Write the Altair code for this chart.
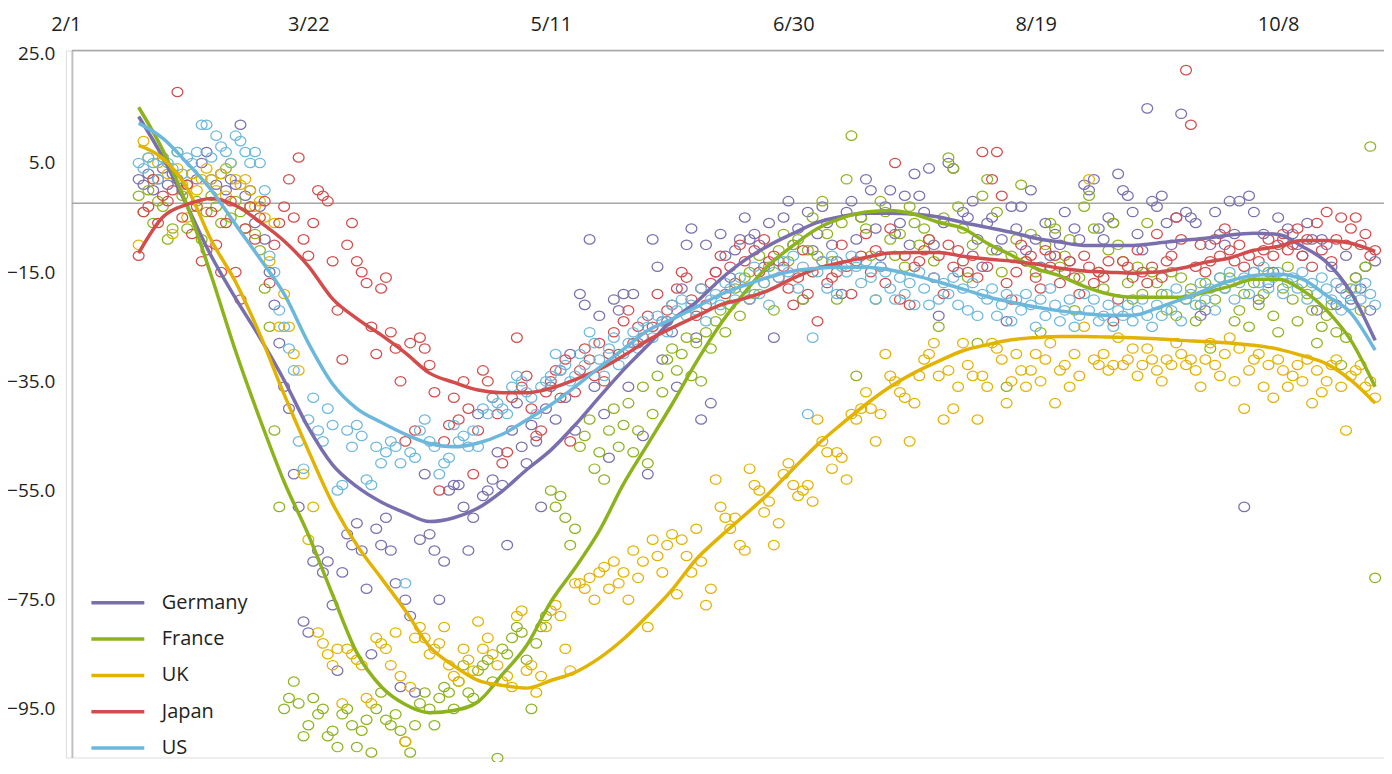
import json
import altair as alt
import pandas as pd

countries = ["Germany", "France", "UK", "Japan", "US"]
colors = ["#7a6fae", "#8db31c", "#e2b300", "#d24c4c", "#6cb8dc"]

tick_days = [0, 50, 100, 150, 200, 250]
tick_labels = ["2/1", "3/22", "5/11", "6/30", "8/19", "10/8"]
y_ticks = [25, 5, -15, -35, -55, -75, -95]
zero_line = [-2.4]

first_day = 15
trend_step = 5

germany_daily = [
    2, 1, 3, 0, 2, 4, 1,
    3, 2, 0, 1, 3, 2, 5,
    7, 2, 1, 3, 0, 2, 1,
    12, -1, 0, -6, -3, -9, -15,
    -21, -28, -36, -40, -52, -58, -79,
    -81, -68, -66, -70, -68, -76, -88,
    -70, -63, -65, -61, -66, -73, -85,
    -62, -65, -60, -66, -72, -91, -75,
    -78, -92, -64, -52, -63, -66, -75,
    -68, -55, -54, -54, -58, -66, -60,
    -41, -56, -55, -53, -48, -54, -65,
    -44, -39, -47, -50, -43, -46, -58,
    -40, -36, -42, -33, -38, -30, -44,
    -19, -21, -9, -36, -23, -41, -49,
    -20, -22, -19, -36, -19, -28, -45,
    -52, -9, -14, -31, -24, -26, -36,
    -18, -10, -7, -27, -42, -10, -39,
    -15, -8, -12, -16, -11, -9, -5,
    -9, -8, -10, -14, -6, -27, -13,
    -5, -2, -10, -7, -20, -4, -11,
    -8, -3, -6, -10, -13, -19, -4,
    -2, -9, -5, 2, 0, -7, -12,
    -3, 0, -8, -6, -1, -10, 3,
    -1, -4, 4, -10, -23, -6, 5,
    4, -15, -4, -5, -2, -9, -14,
    -6, -5, -11, -9, -24, -3, -7,
    -3, -11, 0, -9, -14, -6, -12,
    -8, -10, -4, -13, -7, -9, 1,
    0, 2, -7, -9, -5, -6, 3,
    0, -1, -4, -8, -11, 15, -2,
    -3, -1, -6, -10, -5, 14, -4,
    -5, -6, -23, -22, -10, -4, -8,
    -10, -2, -8, -2, -58, -1, -4,
    -20, -8, -17, -15, -5, -9, -7,
    -8, -10, -12, -6, -9, -22, -9,
    -10, -14, -21, -18, -12, -20, -16,
    -18, -14, -22, -13,
]

france_daily = [
    -1, -4, 0, -6, -2, -3, -9,
    -7, 7, -1, -7, -3, -2, -9,
    -4, -1, -3, -6, 4, -5, -2,
    -4, -7, -3, -8, -11, -18, -25,
    -44, -58, -95, -93, -90, -94, -100,
    -98, -93, -96, -95, -100, -99, -102,
    -96, -95, -98, -102, -99, -97, -103,
    -95, -92, -97, -98, -96, -99, -101,
    -103, -98, -94, -92, -95, -98, -93,
    -91, -92, -95, -90, -87, -92, -93,
    -88, -87, -86, -90, -104, -84, -85,
    -82, -80, -81, -86, -95, -83, -80,
    -78, -55, -58, -56, -60, -65, -62,
    -47, -45, -42, -51, -48, -53, -44,
    -40, -47, -43, -39, -48, -44, -36,
    -50, -41, -34, -37, -31, -29, -33,
    -30, -27, -34, -28, -35, -26, -29,
    -24, -22, -26, -21, -18, -23, -16,
    -15, -19, -12, -17, -14, -22, -11,
    -8, -13, -10, -9, -20, -11, -5,
    -12, -2, -8, -13, -20, -6, 2,
    10, -34, -5, -7, -12, -20, -2,
    -4, -9, -12, -8, -14, -3, -6,
    -10, -7, -9, -13, -25, -5, 6,
    4, -3, -7, -16, -10, -28, -1,
    2, -11, -4, -15, -36, -12, -9,
    1, -13, -8, -15, -26, -10, -6,
    -7, -14, -12, -9, -22, -16, -3,
    -1, -7, -15, -18, -11, -6, -10,
    -13, -17, -20, -14, -19, -6, -15,
    -17, -19, -22, -15, -23, -16, -20,
    -18, -24, -21, -17, -29, -20, -16,
    -18, -16, -24, -22, -19, -25, -17,
    -21, -19, -15, -23, -26, -18, -14,
    -20, -24, -17, -19, -22, -28, -25,
    -23, -21, -26, -32, -27, -18, -16,
    -22, -14, 8, -71,
]

uk_daily = [
    -10, 9, 6, 2, 5, 6, 3,
    -8, 4, 1, -5, 3, 0, 2,
    4, 2, 0, 3, -1, 5, 2,
    1, 2, 0, -3, -2, -5, -13,
    -6, -25, -19, -25, -30, -33, -52,
    -64, -58, -81, -83, -85, -87, -84,
    -94, -84, -85, -86, -87, -93, -94,
    -82, -83, -84, -87, -81, -89, -101,
    -91, -82, -80, -82, -85, -84, -83,
    -80, -87, -89, -90, -84, -86, -88,
    -79, -84, -82, -85, -87, -90, -89,
    -91, -78, -77, -88, -87, -92, -89,
    -80, -77, -76, -78, -84, -88, -72,
    -72, -73, -71, -75, -70, -69, -73,
    -68, -72, -70, -75, -66, -71, -68,
    -80, -64, -67, -70, -65, -63, -74,
    -64, -67, -70, -62, -68, -76, -73,
    -53, -58, -60, -62, -60, -65, -66,
    -51, -54, -55, -59, -57, -65, -61,
    -52, -50, -54, -56, -55, -54, -57,
    -42, -46, -48, -51, -48, -49, -53,
    -41, -42, -40, -37, -40, -46, -41,
    -30, -34, -35, -37, -38, -46, -39,
    -34, -31, -30, -28, -34, -42, -33,
    -40, -36, -28, -32, -34, -42, -34,
    -36, -28, -29, -31, -39, -35, -30,
    -33, -36, -33, -30, -35, -31, -28,
    -39, -33, -32, -36, -30, -34, -25,
    2, -31, -32, -30, -33, -32, -27,
    -32, -31, -29, -34, -32, -29, -31,
    -33, -35, -31, -32, -28, -30, -32,
    -31, -33, -36, -31, -28, -32, -34,
    -30, -27, -35, -29, -40, -33, -31,
    -30, -36, -32, -38, -31, -33, -36,
    -34, -32, -35, -31, -39, -33, -37,
    -35, -32, -31, -36, -44, -34, -33,
    -32, -36, -35, -38,
]

japan_daily = [
    -12, -4, -3, 2, -6, -1, -2,
    0, 18, -5, 1, -8, -3, -13,
    -11, -4, -10, -15, -6, -2, -15,
    -20, -7, -3, -9, -5, -2, -17,
    -10, -6, -3, 2, -5, 6, -9,
    -12, -6, 0, -1, -2, -13, -22,
    -31, -10, -6, -13, -15, -17, -25,
    -30, -18, -16, -26, -29, -35, -46,
    -28, -44, -27, -29, -32, -37, -55,
    -46, -43, -38, -42, -35, -40, -52,
    -44, -33, -35, -38, -41, -50, -48,
    -38, -27, -36, -34, -40, -45, -44,
    -37, -35, -33, -38, -31, -46, -37,
    -33, -29, -31, -34, -28, -35, -30,
    -26, -30, -24, -22, -28, -25, -27,
    -23, -25, -19, -24, -22, -21, -18,
    -15, -16, -20, -23, -18, -21, -17,
    -15, -12, -19, -14, -17, -10, -13,
    -20, -11, -15, -9, -13, -12, -16,
    -14, -18, -21, -16, -11, -19, -15,
    -24, -13, -17, -16, -15, -10, -14,
    -19, -13, -12, -8, -15, -11, -14,
    -17, -7, 5, -20, -12, -21, -14,
    -13, -11, -9, -16, -12, -19, -10,
    -14, -11, -13, -15, -12, -16, 7,
    -14, 2, 7, -1, -17, -20, -15,
    -10, -13, -12, -16, -18, -11, -14,
    -12, -17, -15, -13, -16, -19, -12,
    -14, -17, -15, -16, -13, -24, -20,
    -13, -14, -16, -11, -15, -17, -14,
    -8, -16, -13, -12, -5, -9, 22,
    12, -14, -10, -15, -13, -9, -12,
    -7, -11, -13, -10, -14, -12, -15,
    -13, -11, -9, -12, -10, -8, -11,
    -10, -7, -12, -9, -14, -6, -11,
    -4, -13, -9, -5, -10, -7, -5,
    -10, -8, -12, -11,
]

us_daily = [
    5, 4, 6, 5, 2, 6, 5,
    4, 7, 3, 6, 5, 7, 12,
    12, 6, 10, 8, 7, 5, 10,
    9, 7, 5, 7, 5, 0, -12,
    -15, -22, -25, -29, -33, -46, -51,
    -42, -38, -44, -46, -40, -43, -55,
    -54, -44, -47, -43, -45, -53, -54,
    -47, -50, -48, -46, -47, -50, -72,
    -48, -49, -44, -42, -46, -47, -52,
    -50, -49, -43, -46, -45, -47, -44,
    -47, -40, -41, -38, -39, -40, -41,
    -36, -34, -35, -37, -38, -41, -36,
    -35, -34, -30, -33, -32, -35, -34,
    -30, -32, -26, -28, -31, -34, -29,
    -27, -32, -30, -28, -26, -29, -24,
    -25, -27, -23, -24, -26, -21, -22,
    -20, -23, -21, -22, -18, -24, -20,
    -19, -21, -17, -18, -20, -16, -18,
    -20, -14, -19, -17, -21, -15, -16,
    -13, -15, -12, -18, -14, -41, -27,
    -15, -13, -18, -12, -19, -14, -15,
    -12, -14, -17, -13, -16, -20, -14,
    -15, -18, -20, -16, -19, -17, -21,
    -15, -18, -21, -16, -20, -17, -19,
    -16, -21, -18, -22, -17, -23, -19,
    -20, -18, -23, -21, -19, -24, -20,
    -22, -19, -21, -25, -20, -23, -18,
    -21, -24, -22, -20, -25, -23, -19,
    -22, -20, -24, -23, -21, -25, -22,
    -23, -21, -24, -22, -20, -23, -25,
    -21, -23, -19, -22, -18, -24, -20,
    -19, -21, -17, -20, -18, -22, -16,
    -18, -15, -20, -17, -16, -19, -15,
    -17, -14, -18, -16, -15, -19, -17,
    -16, -18, -15, -20, -17, -19, -16,
    -18, -20, -17, -22, -19, -21, -18,
    -20, -17, -19, -21,
]

germany_trend = [13.5, 6.0, -2.9, -12.1, -19.8, -27.0, -34.8, -43.5, -50.3, -54.3,
                 -57.1, -59.1, -60.7, -60.0, -58.2, -55.1, -51.2, -47.6, -43.0, -37.9,
                 -32.9, -28.4, -23.8, -20.5, -16.3, -12.8, -10.1, -7.9, -5.9, -4.8,
                 -4.2, -4.2, -4.4, -4.9, -5.9, -6.8, -7.7, -8.8, -9.5, -10.1,
                 -10.1, -10.1, -9.7, -9.2, -8.8, -8.2, -7.9, -8.1, -10.3, -13.2,
                 -18.7, -27.5]
france_trend = [15.2, 7.3, -2.8, -15.7, -29.5, -41.9, -53.4, -63.1, -74.1, -84.7,
                -90.9, -94.2, -95.7, -95.3, -93.7, -88.7, -83.4, -75.4, -69.2, -62.4,
                -53.8, -46.5, -39.2, -31.5, -24.5, -18.7, -13.7, -10.1, -7.0, -5.1,
                -4.0, -3.7, -4.4, -5.9, -7.0, -9.7, -11.9, -14.3, -15.7, -17.6,
                -19.0, -19.6, -19.6, -19.6, -18.7, -17.6, -16.3, -16.3, -18.3, -22.0,
                -27.5, -36.0]
uk_trend = [8.2, 5.8, 0.4, -9.2, -16.8, -26.4, -37.4, -47.7, -57.4, -65.0,
            -71.0, -77.0, -83.6, -87.1, -89.8, -90.7, -91.2, -89.8, -88.3, -85.7,
            -82.2, -77.9, -73.2, -67.6, -63.4, -59.5, -55.5, -51.0, -46.6, -42.8,
            -39.2, -36.0, -33.4, -31.3, -29.4, -28.3, -27.4, -27.0, -26.8, -26.8,
            -26.9, -27.0, -27.2, -27.5, -27.7, -28.0, -28.4, -29.1, -30.3, -31.8,
            -34.8, -39.0]
japan_trend = [-11.5, -4.9, -2.6, -1.5, -2.8, -5.8, -9.3, -13.9, -19.9, -23.5,
               -26.5, -29.8, -33.5, -35.2, -36.6, -37.1, -37.1, -36.3, -34.7, -32.8,
               -30.3, -27.5, -25.2, -23.1, -21.0, -19.8, -18.3, -16.1, -14.3, -13.2,
               -12.3, -11.5, -11.4, -11.4, -12.1, -12.6, -13.0, -13.5, -14.3, -14.8,
               -15.0, -15.2, -15.0, -14.3, -13.2, -12.4, -11.0, -10.3, -9.2, -9.2,
               -9.7, -11.2]
us_trend = [12.3, 9.5, 5.0, 0.0, -6.3, -12.5, -19.0, -28.0, -35.5, -40.0,
            -42.5, -44.7, -46.4, -47.0, -46.3, -44.7, -42.1, -39.3, -36.0, -32.5,
            -29.1, -25.7, -23.6, -21.4, -19.1, -17.4, -15.9, -14.8, -14.3, -14.1,
            -14.1, -14.6, -15.6, -16.8, -18.1, -19.5, -20.5, -21.4, -22.1, -22.6,
            -22.9, -22.9, -21.6, -20.0, -18.3, -16.6, -15.6, -15.4, -16.3, -19.3,
            -22.5, -29.3]

daily_series = [germany_daily, france_daily, uk_daily, japan_daily, us_daily]
trend_series = [germany_trend, france_trend, uk_trend, japan_trend, us_trend]

scatter_rows = []
for name, series in zip(countries, daily_series):
    for i, v in enumerate(series):
        scatter_rows.append({"country": name, "day": first_day + i, "value": v})
scatter_df = pd.DataFrame(scatter_rows)

trend_rows = []
for name, series in zip(countries, trend_series):
    for i, v in enumerate(series):
        trend_rows.append({"country": name, "day": first_day + i * trend_step, "value": v})
trend_df = pd.DataFrame(trend_rows)

FONT = "Open Sans"
TEXT = "#231f20"
AXIS_GRAY = "#a6a6a6"

W, H = 1320, 708
x_scale = alt.Scale(domain=[0, 271.83], nice=False, zero=False)
y_scale = alt.Scale(domain=[-103.9, 25.6], nice=False, zero=False)

label_expr = json.dumps(tick_labels) + "[round(datum.value / 50)]"

x_axis = alt.Axis(orient="top", values=tick_days, labelExpr=label_expr, title=None,
                  ticks=False, grid=False, domain=False,
                  labelFont=FONT, labelFontSize=20, labelColor=TEXT,
                  labelPadding=20, labelBaseline="alphabetic", labelFlush=False)
y_axis = alt.Axis(values=y_ticks, format=".1f", title=None, ticks=False, grid=False,
                  domainColor="#c0c0c0", domainWidth=2, labelFont=FONT, offset=-6,
                  labelFontSize=19, labelColor=TEXT, labelPadding=17)

ellipse = "M-1,0A1,0.86,0,1,1,1,0A1,0.86,0,1,1,-1,0Z"

top_line = alt.Chart(pd.DataFrame({"k": [0]})).mark_rule(
    color=AXIS_GRAY, strokeWidth=1.5
).encode(x=alt.value(6), x2=alt.value(W), y=alt.value(0))

zero = alt.Chart(pd.DataFrame({"y": zero_line})).mark_rule(
    color=AXIS_GRAY, strokeWidth=1.5
).encode(y=alt.Y("y:Q", scale=y_scale, axis=y_axis), x=alt.value(6), x2=alt.value(W))

points = alt.Chart(scatter_df).mark_point(
    shape=ellipse, filled=False, size=118, strokeWidth=1.25, opacity=1
).encode(
    x=alt.X("day:Q", scale=x_scale, axis=x_axis),
    y=alt.Y("value:Q", scale=y_scale, axis=y_axis),
    color=alt.Color("country:N", scale=alt.Scale(domain=countries, range=colors), legend=None),
)

lines = alt.Chart(trend_df).mark_line(strokeWidth=3.5, interpolate="monotone").encode(
    x=alt.X("day:Q", scale=x_scale, axis=x_axis),
    y=alt.Y("value:Q", scale=y_scale, axis=y_axis),
    color=alt.Color(
        "country:N", scale=alt.Scale(domain=countries, range=colors), sort=countries,
        legend=alt.Legend(
            title=None, orient="none", legendX=40, legendY=541, direction="vertical",
            symbolType="M-2.65,0L2.65,0", symbolSize=400, symbolStrokeWidth=3.5,
            symbolFillColor="transparent",
            labelFont=FONT, labelFontSize=20, labelColor=TEXT, labelOffset=32,
            rowPadding=14.4, padding=0,
        ),
    ),
)

chart = alt.layer(top_line, zero, points, lines).resolve_scale(
    color="independent"
).properties(
    width=W, height=H,
    autosize=alt.AutoSizeParams(type="none"),
    padding={"left": 58, "top": 42, "right": 0, "bottom": 4},
).configure_view(stroke=None).configure(background="white")

chart.save("out.html", embed_options={"renderer": "svg", "actions": False})
